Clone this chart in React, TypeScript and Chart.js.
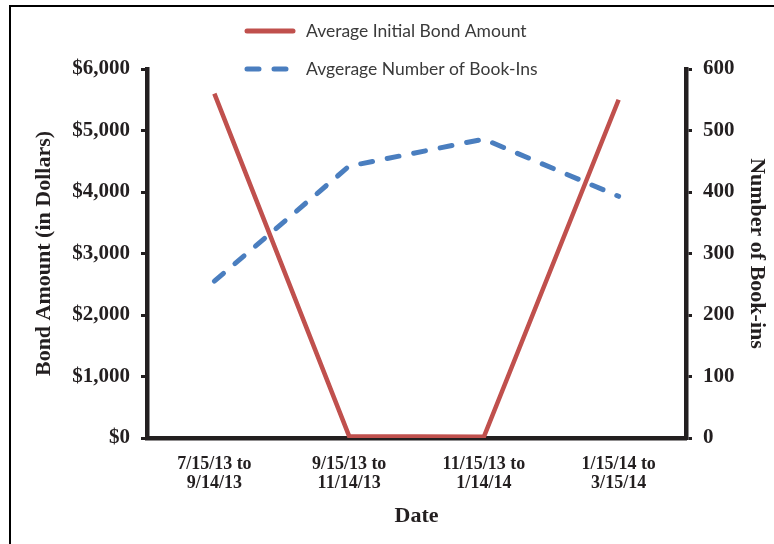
import React, { useEffect, useRef } from "react";
import { Chart, registerables } from "chart.js";

Chart.register(...registerables);

const categories: string[][] = [
  ["7/15/13 to", "9/14/13"],
  ["9/15/13 to", "11/14/13"],
  ["11/15/13 to", "1/14/14"],
  ["1/15/14 to", "3/15/14"],
];
const bondAmounts: number[] = [5600, 30, 20, 5500];
const bookIns: number[] = [255, 442, 486, 393];
const legendLabels: string[] = ["Average Initial Bond Amount", "Avgerage Number of Book-Ins"];
const leftAxisTitle = "Bond Amount (in Dollars)";
const rightAxisTitle = "Number of Book-ins";
const xAxisTitle = "Date";

const RED = "#C0504D";
const BLUE = "#4A7EBF";
const INK = "#231F20";
const SERIF = "'Liberation Serif', 'Times New Roman', serif";

const framePlugin = {
  id: "frame",
  beforeDraw(chart: any) {
    const ctx = chart.ctx;
    ctx.save();
    ctx.fillStyle = "#000";
    ctx.fillRect(9, 5, 2, 539);
    ctx.fillRect(9, 5, 765, 2);
    ctx.restore();
  },
  afterDraw(chart: any) {
    const ctx = chart.ctx;
    ctx.save();
    const rows = [
      { y: 31, color: RED, dash: [] as number[], label: legendLabels[0] },
      { y: 69, color: BLUE, dash: [12, 15], label: legendLabels[1] },
    ];
    for (const r of rows) {
      ctx.beginPath();
      ctx.strokeStyle = r.color;
      ctx.lineWidth = 5;
      ctx.lineCap = "round";
      ctx.setLineDash(r.dash);
      ctx.moveTo(247, r.y);
      ctx.lineTo(293, r.y);
      ctx.stroke();
      ctx.setLineDash([]);
      ctx.fillStyle = "#3A3A3A";
      ctx.font = "17.5px Lato, 'Open Sans', sans-serif";
      ctx.textBaseline = "middle";
      ctx.textAlign = "left";
      ctx.fillText(r.label, 306, r.y);
    }
    ctx.restore();
  },
};

export default function App() {
  const ref = useRef<HTMLCanvasElement>(null);
  useEffect(() => {
    if (!ref.current) return;
    const chart = new Chart(ref.current, {
      type: "line",
      data: {
        labels: categories,
        datasets: [
          {
            label: legendLabels[0],
            data: bondAmounts,
            yAxisID: "y",
            borderColor: RED,
            backgroundColor: RED,
            borderWidth: 4.5,
            pointRadius: 0,
            tension: 0,
            order: 1,
          },
          {
            label: legendLabels[1],
            data: bookIns,
            yAxisID: "y1",
            borderColor: BLUE,
            backgroundColor: BLUE,
            borderWidth: 5,
            borderDash: [12, 15],
            borderCapStyle: "round",
            pointRadius: 0,
            tension: 0,
            order: 0,
          },
        ],
      },
      options: {
        responsive: false,
        animation: false,
        devicePixelRatio: 1,
        layout: { padding: { top: 69, left: 0, right: 0, bottom: 0 } },
        plugins: { legend: { display: false }, tooltip: { enabled: false } },
        scales: {
          x: {
            offset: true,
            grid: { display: false, drawTicks: false },
            border: { display: true, color: INK, width: 4.5 },
            ticks: {
              color: INK,
              padding: 16,
              maxRotation: 0,
              autoSkip: false,
              font: { family: SERIF, size: 18, weight: "bold", lineHeight: 1.1 },
            },
            title: {
              display: true,
              text: xAxisTitle,
              color: INK,
              padding: { top: 0, bottom: 14 },
              font: { family: SERIF, size: 22, weight: "bold", lineHeight: 1.2 },
            },
            afterFit(scale: any) {
              scale.height = 106;
            },
          },
          y: {
            position: "left",
            min: 0,
            max: 6000,
            ticks: {
              stepSize: 1000,
              color: INK,
              padding: 11,
              font: { family: SERIF, size: 21, weight: "bold" },
              callback: (v: any) => "$" + Number(v).toLocaleString("en-US"),
            },
            grid: {
              display: true,
              drawOnChartArea: false,
              drawTicks: true,
              tickLength: 6,
              lineWidth: 3,
              color: INK,
            },
            border: { display: true, color: INK, width: 4.5 },
            title: {
              display: true,
              text: leftAxisTitle,
              color: INK,
              padding: { top: 31, bottom: 0 },
              font: { family: SERIF, size: 22, weight: "bold", lineHeight: 1.2 },
            },
            afterFit(scale: any) {
              scale.width = 147;
            },
          },
          y1: {
            position: "right",
            min: 0,
            max: 600,
            ticks: {
              stepSize: 100,
              color: INK,
              padding: 11,
              font: { family: SERIF, size: 21, weight: "bold" },
            },
            grid: {
              display: true,
              drawOnChartArea: false,
              drawTicks: true,
              tickLength: 6,
              lineWidth: 3,
              color: INK,
            },
            border: { display: true, color: INK, width: 4.5 },
            title: {
              display: true,
              text: rightAxisTitle,
              color: INK,
              padding: { top: 4, bottom: 0 },
              font: { family: SERIF, size: 22, weight: "bold", lineHeight: 1.2 },
            },
            afterFit(scale: any) {
              scale.width = 88;
            },
          },
        },
      },
      plugins: [framePlugin],
    } as any);
    return () => chart.destroy();
  }, []);
  return (
    <div style={{ position: "fixed", left: 0, top: 0, width: 774, height: 544, background: "#fff" }}>
      <canvas ref={ref} width={774} height={544} style={{ display: "block" }} />
    </div>
  );
}
